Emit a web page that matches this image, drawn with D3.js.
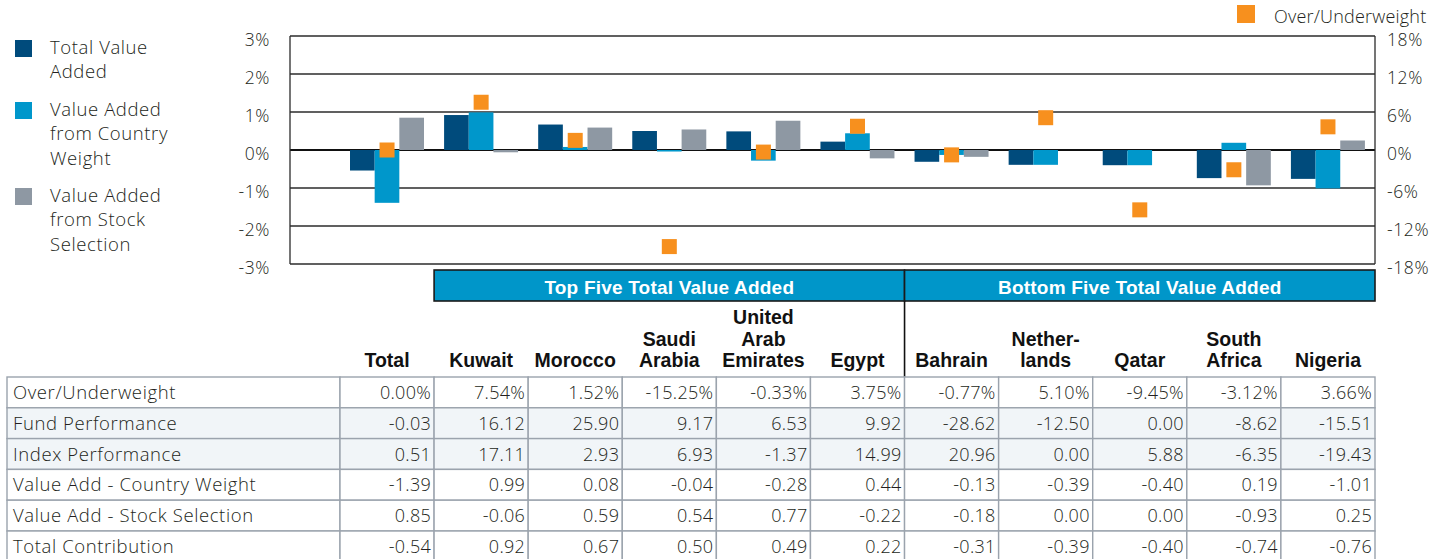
<!DOCTYPE html>
<html>
<head>
<meta charset="utf-8">
<script src="https://cdn.jsdelivr.net/npm/d3@7"></script>
<style>
  html, body { margin: 0; padding: 0; background: #fff; }
  svg { display: block; }
  .light { font-family: "Open Sans", "Liberation Sans", sans-serif; font-weight: 300; fill: #231f20; letter-spacing: 0.6px; }
  .bold { font-family: "Liberation Sans", "Roboto", sans-serif; font-weight: 700; fill: #111; }
  .title { font-family: "Liberation Sans", "Roboto", sans-serif; font-weight: 700; fill: #fff; }
</style>
</head>
<body>
<div id="chart"></div>
<script>
// chart data
const categories = ["Total", "Kuwait", "Morocco", "Saudi Arabia", "United Arab Emirates", "Egypt",
                    "Bahrain", "Netherlands", "Qatar", "South Africa", "Nigeria"];
const headerLines = [["Total"], ["Kuwait"], ["Morocco"], ["Saudi", "Arabia"], ["United", "Arab", "Emirates"], ["Egypt"],
                     ["Bahrain"], ["Nether-", "lands"], ["Qatar"], ["South", "Africa"], ["Nigeria"]];
const overUnderweight = [0.00, 7.54, 1.52, -15.25, -0.33, 3.75, -0.77, 5.10, -9.45, -3.12, 3.66];
const fundPerformance = [-0.03, 16.12, 25.90, 9.17, 6.53, 9.92, -28.62, -12.50, 0.00, -8.62, -15.51];
const indexPerformance = [0.51, 17.11, 2.93, 6.93, -1.37, 14.99, 20.96, 0.00, 5.88, -6.35, -19.43];
const valueAddCountry = [-1.39, 0.99, 0.08, -0.04, -0.28, 0.44, -0.13, -0.39, -0.40, 0.19, -1.01];
const valueAddStock = [0.85, -0.06, 0.59, 0.54, 0.77, -0.22, -0.18, 0.00, 0.00, -0.93, 0.25];
const totalContribution = [-0.54, 0.92, 0.67, 0.50, 0.49, 0.22, -0.31, -0.39, -0.40, -0.74, -0.76];

const leftTicks = [-3, -2, -1, 0, 1, 2, 3];
const rightTicks = [-18, -12, -6, 0, 6, 12, 18];
const groupTitles = ["Top Five Total Value Added", "Bottom Five Total Value Added"];

const series = [
    { key: "Total Value Added", lines: ["Total Value", "Added"], values: totalContribution, color: "#004b7c" },
    { key: "Value Added from Country Weight", lines: ["Value Added", "from Country", "Weight"], values: valueAddCountry, color: "#0097cb" },
    { key: "Value Added from Stock Selection", lines: ["Value Added", "from Stock", "Selection"], values: valueAddStock, color: "#8e98a3" }
];
const orange = "#f7901e";

const tableRows = [
    { label: "Over/Underweight", values: overUnderweight, fmt: d => d.toFixed(2) + "%" },
    { label: "Fund Performance", values: fundPerformance, fmt: d => d.toFixed(2) },
    { label: "Index Performance", values: indexPerformance, fmt: d => d.toFixed(2) },
    { label: "Value Add - Country Weight", values: valueAddCountry, fmt: d => d.toFixed(2) },
    { label: "Value Add - Stock Selection", values: valueAddStock, fmt: d => d.toFixed(2) },
    { label: "Total Contribution", values: totalContribution, fmt: d => d.toFixed(2) }
];

const width = 1450, height = 559;
const plot = { left: 290, right: 1375, top: 36, bottom: 264 };

const svg = d3.select("#chart").append("svg")
    .attr("width", width)
    .attr("height", height);

// scales
const x = d3.scaleBand().domain(categories).range([340, 1375]);
const xInner = d3.scaleBand().domain(series.map(s => s.key)).range([10, 84]);
const y = d3.scaleLinear().domain([-3, 3]).range([plot.bottom, plot.top]);
const y2 = d3.scaleLinear().domain([-18, 18]).range([plot.bottom, plot.top]);

// gridlines
svg.append("g").selectAll("line")
    .data(leftTicks)
    .join("line")
    .attr("x1", plot.left).attr("x2", plot.right)
    .attr("y1", d => y(d)).attr("y2", d => y(d))
    .attr("stroke", d => d === 0 ? "#111" : "#2b2b2b")
    .attr("stroke-width", d => d === 0 ? 1.8 : 1.3);

// frame sides
svg.append("g").selectAll("line")
    .data([plot.left, plot.right])
    .join("line")
    .attr("x1", d => d).attr("x2", d => d)
    .attr("y1", plot.top).attr("y2", plot.bottom)
    .attr("stroke", "#2b2b2b")
    .attr("stroke-width", 1.3);

// axes (labels only)
const yAxis = d3.axisLeft(y).tickValues(leftTicks).tickSize(0).tickPadding(20).tickFormat(d => d + "%");
const gy = svg.append("g").attr("transform", `translate(${plot.left},0)`).call(yAxis);
const y2Axis = d3.axisRight(y2).tickValues(rightTicks).tickSize(0).tickPadding(12).tickFormat(d => d + "%");
const gy2 = svg.append("g").attr("transform", `translate(${plot.right},0)`).call(y2Axis);
[gy, gy2].forEach(g => {
    g.select(".domain").remove();
    g.selectAll("text")
        .attr("class", "light")
        .attr("dy", "0.55em")
        .style("font-size", "17.5px");
});

// bars
const groups = svg.append("g").selectAll("g")
    .data(categories)
    .join("g")
    .attr("transform", d => `translate(${x(d)},0)`);

groups.selectAll("rect")
    .data((d, i) => series.map(s => ({ key: s.key, color: s.color, v: s.values[i] })))
    .join("rect")
    .attr("x", d => xInner(d.key))
    .attr("width", xInner.bandwidth())
    .attr("y", d => y(Math.max(0, d.v)))
    .attr("height", d => Math.abs(y(d.v) - y(0)))
    .attr("fill", d => d.color);

// over/underweight markers on the right axis
const mk = 15;
svg.append("g").selectAll("rect")
    .data(categories)
    .join("rect")
    .attr("x", d => x(d) + x.bandwidth() / 2 - mk / 2)
    .attr("y", (d, i) => y2(overUnderweight[i]) - mk / 2)
    .attr("width", mk)
    .attr("height", mk)
    .attr("fill", orange);

// legend on the left
const legend = svg.append("g");
const legendTop = [40, 102, 188];
series.forEach((s, i) => {
    legend.append("rect")
        .attr("x", 15).attr("y", legendTop[i])
        .attr("width", 17).attr("height", 17)
        .attr("fill", s.color);
    legend.append("text")
        .attr("class", "light")
        .style("font-size", "18.5px")
        .selectAll("tspan")
        .data(s.lines)
        .join("tspan")
        .attr("x", 50)
        .attr("y", (d, j) => legendTop[i] + 14 + j * 24.3)
        .text(d => d);
});

// over/underweight legend
svg.append("rect")
    .attr("x", 1237).attr("y", 5)
    .attr("width", 18).attr("height", 18)
    .attr("fill", orange);
svg.append("text")
    .attr("class", "light")
    .attr("x", 1274).attr("y", 23)
    .style("font-size", "18px")
    .style("letter-spacing", "0.2px")
    .text("Over/Underweight");

// group title boxes
const groupSpans = [[categories[1], categories[5]], [categories[6], categories[10]]];
groupSpans.forEach((span, i) => {
    const x0 = x(span[0]), x1 = x(span[1]) + x.bandwidth();
    svg.append("rect")
        .attr("x", x0).attr("y", 270)
        .attr("width", x1 - x0).attr("height", 31)
        .attr("fill", "#0096c9")
        .attr("stroke", "#1a1a1a")
        .attr("stroke-width", 1.6);
    svg.append("text")
        .attr("class", "title")
        .attr("x", (x0 + x1) / 2).attr("y", 294)
        .attr("text-anchor", "middle")
        .style("font-size", "19px")
        .style("letter-spacing", "0.2px")
        .text(groupTitles[i]);
});
svg.append("line")
    .attr("x1", x(categories[6])).attr("x2", x(categories[6]))
    .attr("y1", 301).attr("y2", 377)
    .attr("stroke", "#111").attr("stroke-width", 1.6);

// column headers
svg.append("g").selectAll("text")
    .data(categories)
    .join("text")
    .attr("class", "bold")
    .attr("text-anchor", "middle")
    .style("font-size", "19.5px")
    .each(function (d, i) {
        const lines = headerLines[i];
        d3.select(this).selectAll("tspan")
            .data(lines)
            .join("tspan")
            .attr("x", x(d) + x.bandwidth() / 2)
            .attr("y", (l, j) => 367 - (lines.length - 1 - j) * 21.5)
            .text(l => l);
    });

// table
const rowH = 30.8, tableTop = 377, labelX = 7;
const table = svg.append("g");
tableRows.forEach((row, r) => {
    const ty = tableTop + r * rowH;
    const fill = (r === 1 || r === 2) ? "#f1f5f8" : "#fff";
    table.append("rect")
        .attr("x", labelX).attr("y", ty)
        .attr("width", x.range()[0] - labelX).attr("height", rowH)
        .attr("fill", fill).attr("stroke", "#9ba3ad").attr("stroke-width", 1.4);
    table.append("text")
        .attr("class", "light")
        .attr("x", labelX + 6).attr("y", ty + 22)
        .style("font-size", "18.5px")
        .text(row.label);
    table.selectAll(null)
        .data(categories)
        .join("rect")
        .attr("x", d => x(d)).attr("y", ty)
        .attr("width", x.bandwidth()).attr("height", rowH)
        .attr("fill", fill).attr("stroke", "#9ba3ad").attr("stroke-width", 1.4);
    table.selectAll(null)
        .data(categories)
        .join("text")
        .attr("class", "light")
        .attr("x", d => x(d) + x.bandwidth() - 3)
        .attr("y", ty + 22)
        .attr("text-anchor", "end")
        .style("font-size", "18px")
        .style("letter-spacing", "0.3px")
        .text((d, i) => row.fmt(row.values[i]));
});
</script>
</body>
</html>
